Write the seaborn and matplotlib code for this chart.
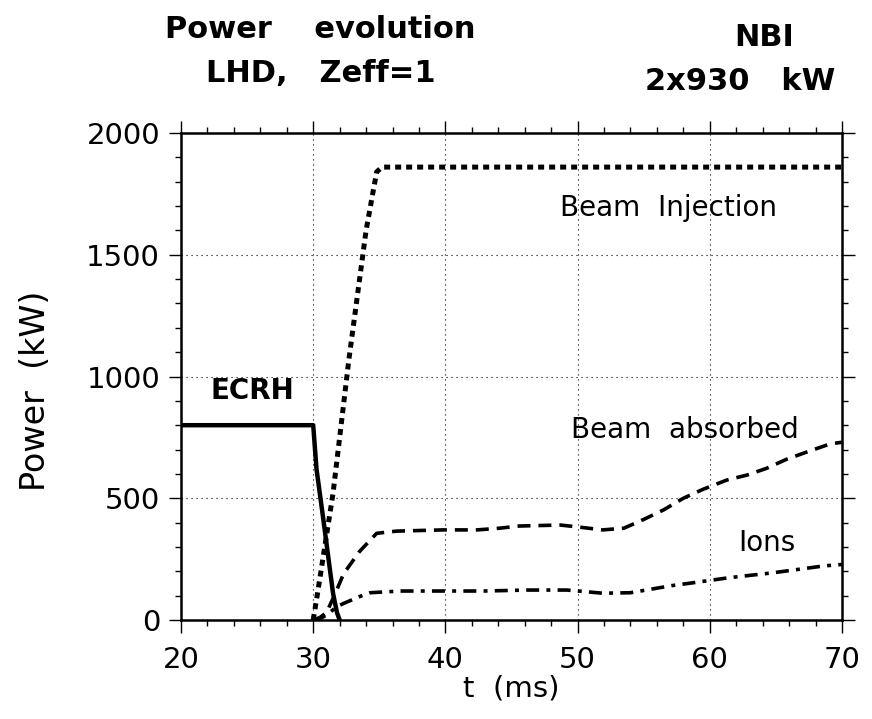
import matplotlib
matplotlib.use("Agg")
import matplotlib.pyplot as plt
from matplotlib.ticker import MultipleLocator
import seaborn as sns

# Heating power traces (kW) versus time (ms)
ecrh_t = [20, 30, 30.25, 30.75, 31.5, 31.8, 32]
ecrh_p = [800, 800, 620, 420, 110, 30, 0]

inj_t = [30, 30.3, 31.5, 32.7, 34.0, 34.8, 35.2, 70]
inj_p = [0, 100, 520, 1070, 1600, 1840, 1860, 1860]

abs_t = [30, 30.5, 31, 31.6, 32.3, 33.5, 34.8, 36.3, 39.8, 42.4, 44.1, 45.6, 48.7,
         50.2, 51.9, 53.5, 55.0, 56.5, 58.0, 59.5, 61.3, 62.8, 64.3, 65.8, 67.6, 69.1, 70]
abs_p = [0, 10, 30, 100, 190, 281, 356, 365, 370, 370, 377, 386, 390,
         381, 370, 377, 413, 452, 500, 537, 575, 595, 623, 660, 695, 723, 730]

ion_t = [30, 30.5, 31, 31.8, 32.3, 33.5, 34.3, 36.6, 39.8, 42.9, 46.2, 49.2,
         51.9, 54.0, 55.5, 57.1, 58.75, 61.5, 64.8, 67.8, 68.6, 70]
ion_p = [0, 5, 20, 55, 68, 96, 112, 119, 119, 119, 123, 123,
         110, 112, 126, 141, 153, 174, 194, 216, 222, 228]

x_ticks = [20, 30, 40, 50, 60, 70]
y_ticks = [0, 500, 1000, 1500, 2000]

sns.set_theme(style="white")
plt.rcParams["font.family"] = ["DejaVu Sans"]
plt.rcParams.update({"text.color": "black", "axes.labelcolor": "black",
                     "xtick.color": "black", "ytick.color": "black"})

fig = plt.figure(figsize=(8.72, 7.19), dpi=100)
ax = fig.add_axes([181 / 872, 99 / 719, 661 / 872, 487 / 719])

sns.lineplot(x=ecrh_t, y=ecrh_p, ax=ax, color="black", lw=3.2, sort=False)
sns.lineplot(x=inj_t, y=inj_p, ax=ax, color="black", lw=3.6, sort=False,
             linestyle=(0, (1.2, 1.0)))
sns.lineplot(x=abs_t, y=abs_p, ax=ax, color="black", lw=2.6, sort=False,
             linestyle=(0, (3.6, 2.2)))
sns.lineplot(x=ion_t, y=ion_p, ax=ax, color="black", lw=2.6, sort=False,
             linestyle=(0, (3.6, 2.0, 1.1, 2.0)))

ax.set_xlim(20, 70)
ax.set_ylim(0, 2000)
ax.set_xticks(x_ticks)
ax.set_yticks(y_ticks)
ax.set_xticklabels([str(v) for v in x_ticks])
ax.set_yticklabels([str(v) for v in y_ticks])
ax.xaxis.set_minor_locator(MultipleLocator(2))
ax.yaxis.set_minor_locator(MultipleLocator(100))
ax.tick_params(which="both", direction="out", top=True, right=True,
               bottom=True, left=True, color="black", width=1.0)
ax.tick_params(which="major", length=9, labelsize=21)
ax.tick_params(axis="x", which="major", pad=10)
ax.tick_params(axis="y", which="major", pad=6)
ax.tick_params(which="minor", length=4.5)

ax.grid(True, which="major", color="black", linestyle=(0, (1, 3.5)), linewidth=0.8)
for s in ax.spines.values():
    s.set_color("black")
    s.set_linewidth(1.8)
    s.set_visible(True)

ax.set_xlabel("t  (ms)", fontsize=21)
ax.xaxis.set_label_coords(0.5, -0.112)
ax.set_ylabel("Power  (kW)", fontsize=24)
ax.yaxis.set_label_coords(-0.195, 0.47)

ax.text(25.4, 940, "ECRH", fontsize=20, fontweight="bold", ha="center", va="center")
ax.text(56.9, 1692, "Beam  Injection", fontsize=20, ha="center", va="center")
ax.text(58.1, 780, "Beam  absorbed", fontsize=20, ha="center", va="center")
ax.text(64.3, 316, "Ions", fontsize=20, ha="center", va="center")

fig.text(320 / 872, 1 - 30 / 719, "Power    evolution", fontsize=22, fontweight="bold",
         ha="center", va="center")
fig.text(321 / 872, 1 - 74 / 719, "LHD,   Zeff=1", fontsize=22, fontweight="bold",
         ha="center", va="center")
fig.text(764 / 872, 1 - 38 / 719, "NBI", fontsize=22, fontweight="bold",
         ha="center", va="center")
fig.text(740 / 872, 1 - 82 / 719, "2x930   kW", fontsize=22, fontweight="bold",
         ha="center", va="center")

fig.savefig("out.png", dpi=100, facecolor="white")
